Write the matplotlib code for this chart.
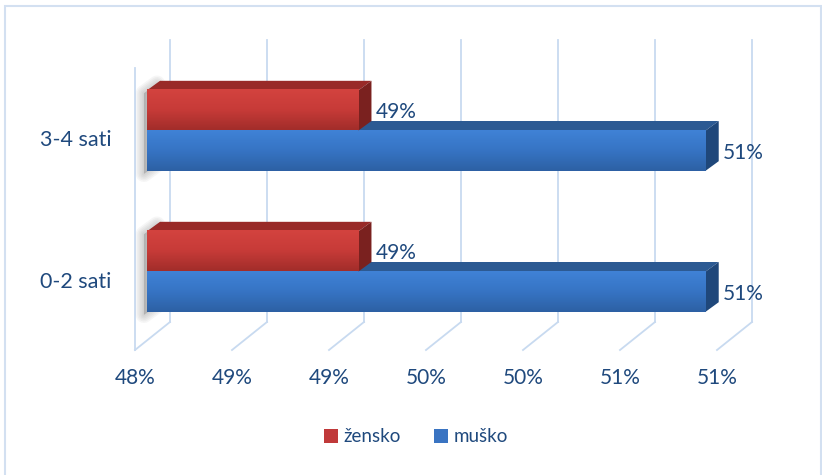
import numpy as np
import matplotlib.pyplot as plt
from matplotlib.patches import Polygon, Rectangle, Patch
from matplotlib.colors import LinearSegmentedColormap

categories = ['0-2 sati', '3-4 sati']
series_names = ['žensko', 'muško']
zensko = [0.4909, 0.4909]
musko = [0.5088, 0.5088]
x_ticks = [0.48, 0.485, 0.49, 0.495, 0.50, 0.505, 0.51]
x_tick_labels = ['48%', '49%', '49%', '50%', '50%', '51%', '51%']

plt.rcParams['font.family'] = ['Lato', 'DejaVu Sans']
TEXT = '#1f497d'
GRID = '#c8daf0'

# 3D look: pixel offsets (right, up)
WALL = (35, 28)      # front plane -> back wall
FRONT = (12, 8)      # front plane -> bar front face
DEPTH = (13, 9.5)    # bar thickness
BAR_H = 0.285

red = dict(grad=['#d3433f', '#c73b38', '#a22d2a'], top='#992a28', side='#7a211f', legend='#c0393a')
blue = dict(grad=['#4082d6', '#3674c4', '#2d60a4'], top='#2c5a93', side='#1f477a', legend='#3a74c2')

fig = plt.figure(figsize=(8.22, 4.75), dpi=100)
ax = fig.add_axes([135 / 822, 125 / 475, 582 / 822, 282 / 475])
ax.set_xlim(x_ticks[0], x_ticks[-1])
ax.set_ylim(-0.5, len(categories) - 0.5)
for s in ax.spines.values():
    s.set_visible(False)
ax.patch.set_visible(False)


def shift(x, y, dx, dy):
    px, py = ax.transData.transform((x, y))
    return ax.transData.inverted().transform((px + dx, py + dy))


# walls / gridlines
y0, y1 = ax.get_ylim()
for t in x_ticks:
    b0 = shift(t, y0, *WALL)
    b1 = shift(t, y1, *WALL)
    ax.plot([b0[0], b1[0]], [b0[1], b1[1]], color=GRID, lw=1.3, clip_on=False, zorder=1)
    ax.plot([t, b0[0]], [y0, b0[1]], color=GRID, lw=1.3, clip_on=False, zorder=1)
ax.plot([x_ticks[0]] * 2, [y0, y1], color=GRID, lw=1.3, clip_on=False, zorder=1)

back = (FRONT[0] + DEPTH[0], FRONT[1] + DEPTH[1])
x0 = x_ticks[0]


def draw_bar(v, yb, style, z):
    bl = shift(x0, yb, *FRONT)
    tr = shift(v, yb + BAR_H, *FRONT)
    ftl = shift(x0, yb + BAR_H, *FRONT)
    fbr = shift(v, yb, *FRONT)
    btl = shift(x0, yb + BAR_H, *back)
    btr = shift(v, yb + BAR_H, *back)
    bbr = shift(v, yb, *back)
    ax.add_patch(Polygon([ftl, tr, btr, btl], closed=True, fc=style['top'], ec='none',
                         clip_on=False, zorder=z))
    ax.add_patch(Polygon([fbr, tr, btr, bbr], closed=True, fc=style['side'], ec='none',
                         clip_on=False, zorder=z))
    cmap = LinearSegmentedColormap.from_list('g', style['grad'][::-1])
    grad = np.linspace(1, 0, 64).reshape(-1, 1)
    ax.imshow(grad, extent=[bl[0], tr[0], bl[1], tr[1]], cmap=cmap, aspect='auto',
              clip_on=False, zorder=z + 0.1, interpolation='bilinear')
    lbl = shift(v, yb + BAR_H / 2, back[0] + 4, FRONT[1] - 2)
    ax.text(lbl[0], lbl[1], '{:.0%}'.format(v), color=TEXT, fontsize=15,
            ha='left', va='center', zorder=6)


for j in range(len(categories)):
    # soft shadow on the left wall
    f0 = shift(x0, j - BAR_H, FRONT[0] - 3, FRONT[1] - 3)
    f1 = shift(x0, j + BAR_H, FRONT[0] - 3, FRONT[1] - 3)
    k1 = shift(x0, j + BAR_H, back[0] - 3, back[1] - 3)
    k0 = shift(x0, j - BAR_H, back[0] - 3, back[1] - 3)
    for k in range(6):
        ax.add_patch(Polygon([f0, f1, k1, k0], closed=True, fc='#808080', ec='#808080',
                             lw=1 + 2.2 * k, alpha=0.07, joinstyle='round',
                             clip_on=False, zorder=1.5))
    draw_bar(musko[j], j - BAR_H, blue, 2)
    draw_bar(zensko[j], j, red, 3)

ax.set_xticks(x_ticks, x_tick_labels)
ax.set_yticks(range(len(categories)), categories)
ax.tick_params(axis='x', length=0, pad=13, labelsize=15, labelcolor=TEXT)
ax.tick_params(axis='y', length=0, pad=17, labelsize=15.5, labelcolor=TEXT)

handles = [Patch(fc=red['legend'], ec='none'), Patch(fc=blue['legend'], ec='none')]
fig.legend(handles, series_names, loc='center', bbox_to_anchor=(416 / 822, 1 - 437 / 475),
           ncol=2, frameon=False, fontsize=13.5, labelcolor=TEXT, handlelength=0.75,
           handleheight=0.75, handletextpad=0.3, columnspacing=1.8)

fig.add_artist(Rectangle((5 / 822, -0.02), 816 / 822, 1.02 - 6 / 475, transform=fig.transFigure,
                         fill=False, ec='#d3e0f1', lw=1.5))

plt.savefig('out.png', dpi=100)
